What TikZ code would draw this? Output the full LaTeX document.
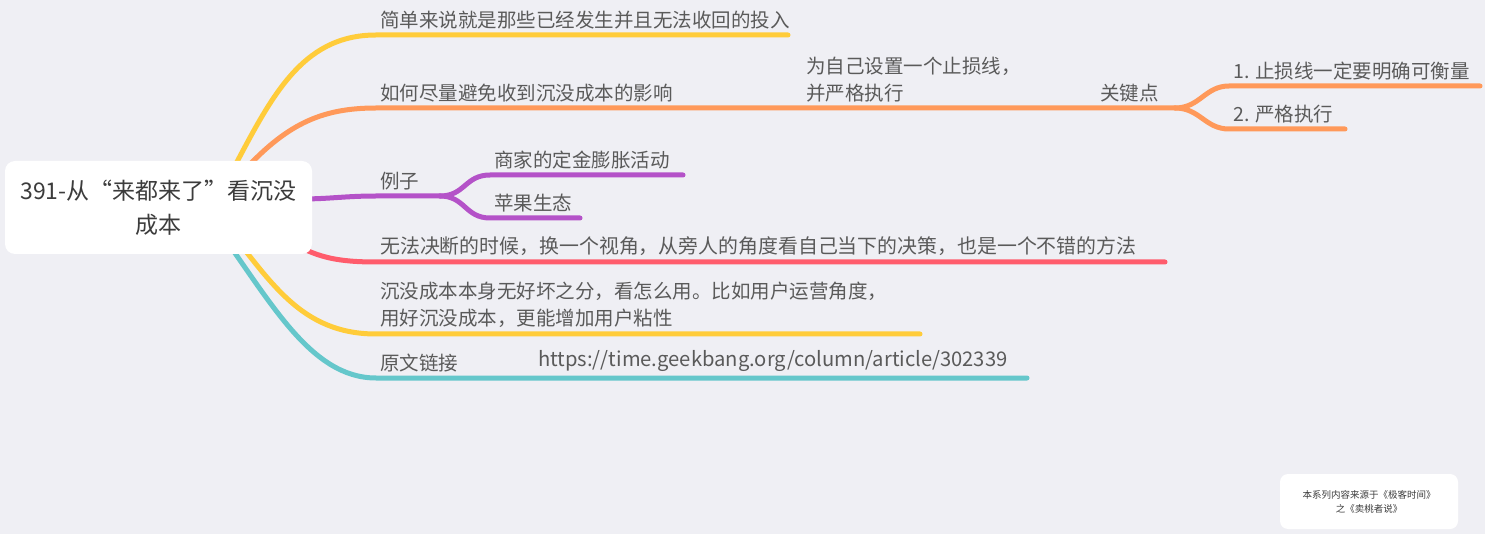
\documentclass[tikz,border=0pt]{standalone}
\usepackage{fontspec}
\setmainfont{Noto Sans CJK SC}
\definecolor{bgc}{RGB}{239,239,244}
\definecolor{txtc}{RGB}{90,90,90}
\definecolor{rootc}{RGB}{60,60,60}
\definecolor{cyel}{RGB}{255,204,58}
\definecolor{cora}{RGB}{255,153,90}
\definecolor{cpur}{RGB}{180,82,200}
\definecolor{cred}{RGB}{255,92,108}
\definecolor{ctea}{RGB}{101,199,203}
\tikzset{
  leaf/.style={anchor=south west, inner xsep=4pt, inner ysep=6pt, text=txtc,
    font=\fontsize{19.5}{27}\selectfont, align=left},
  branch/.style={line width=5pt, line cap=round},
}

\begin{document}
\begin{tikzpicture}[x=1pt,y=-1pt]
%背景
\fill[bgc] (0,0) rectangle (1485,534);
\useasboundingbox (0,0) rectangle (1485,534);

%分支文字
\node[leaf] (t1) at (376,35) {简单来说就是那些已经发生并且无法收回的投入};
\node[leaf] (t2) at (376,108) {如何尽量避免收到沉没成本的影响};
\node[leaf] (t21) at (802,108) {为自己设置一个止损线，\\并严格执行};
\node[leaf] (gj) at (1096,108) {关键点};
\node[leaf] (t211) at (1229,86) {1. 止损线一定要明确可衡量};
\node[leaf] (t212) at (1229,129) {2. 严格执行};
\node[leaf] (t3) at (376,196) {例子};
\node[leaf] (t31) at (490,175) {商家的定金膨胀活动};
\node[leaf] (t32) at (490,218) {苹果生态};
\node[leaf, font=\fontsize{19.9}{27}\selectfont] (t4) at (376,262) {无法决断的时候，换一个视角，从旁人的角度看自己当下的决策，也是一个不错的方法};
\node[leaf] (t5) at (376,334) {沉没成本本身无好坏之分，看怎么用。比如用户运营角度，\\用好沉没成本，更能增加用户粘性};
\node[leaf] (t6) at (376,378) {原文链接};
\node[leaf, font=\fontsize{20.2}{27}\selectfont] (t61) at (534,378) {https://time.geekbang.org/column/article/302339};

%起点与终点
\coordinate (a1) at (230,175);
\coordinate (a2) at (240,175);
\coordinate (a3) at (300,199);
\coordinate (a4) at (280,235);
\coordinate (a5) at (225,225);
\coordinate (a6) at (215,225);
\coordinate (k2) at (1175,108);
\coordinate (k3) at (440,196);
\coordinate (e1) at (788,35);
\coordinate (e211) at (1480,86);
\coordinate (e212) at (1345,129);
\coordinate (e31) at (683,175);
\coordinate (e32) at (580,218);
\coordinate (e4) at (1165,262);
\coordinate (e5) at (920,334);
\coordinate (e6) at (1027,378);

%连线
\draw[branch, cyel] (a1) .. controls (270,100) and (300,35) .. (t1.south west) -- (e1);
\draw[branch, cora] (a2) .. controls (285,125) and (320,108) .. (t2.south west) -- (k2);
\draw[branch, cora] (k2) .. controls (1200,108) and (1205,86) .. (t211.south west) -- (e211);
\draw[branch, cora] (k2) .. controls (1200,108) and (1205,129) .. (t212.south west) -- (e212);
\draw[branch, cpur] (a3) .. controls (330,199) and (345,196) .. (t3.south west) -- (k3);
\draw[branch, cpur] (k3) .. controls (465,196) and (465,175) .. (t31.south west) -- (e31);
\draw[branch, cpur] (k3) .. controls (465,196) and (465,218) .. (t32.south west) -- (e32);
\draw[branch, cred] (a4) .. controls (310,255) and (330,262) .. (t4.south west) -- (e4);
\draw[branch, cyel] (a5) .. controls (270,280) and (300,334) .. (t5.south west) -- (e5);
\draw[branch, ctea] (a6) .. controls (270,300) and (310,378) .. (t6.south west) -- (e6);

%中心主题
\node[fill=white, rounded corners=10pt, minimum width=307pt, minimum height=93pt,
  align=center, text=rootc, font=\fontsize{23}{34}\selectfont] (root) at (158.5,207.5)
  {391-从“来都来了”看沉没\\成本};

%右下角说明
\node[fill=white, rounded corners=8pt, minimum width=178pt, minimum height=55pt,
  align=center, text=rootc, font=\fontsize{9.5}{14}\selectfont] (note) at (1369,501.5)
  {本系列内容来源于《极客时间》\\之《卖桃者说》};
\end{tikzpicture}
\end{document}
